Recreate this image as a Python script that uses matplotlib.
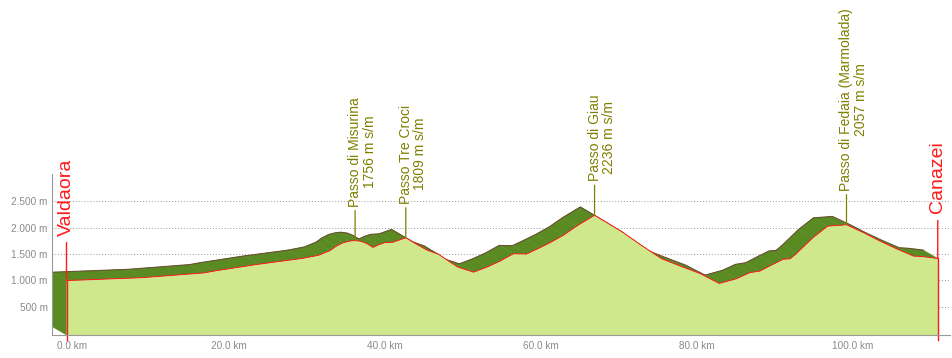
import numpy as np
import matplotlib
matplotlib.use("Agg")
import matplotlib.pyplot as plt
import matplotlib.transforms as mtransforms
from matplotlib.collections import PolyCollection

plt.rcParams['font.family'] = ['Liberation Sans', 'DejaVu Sans']

# ==========================
# Data (km, elevation in m)
# ==========================
km = [0.0, 9.7, 17.6, 19.1, 24.6, 30.2, 32.3, 33.8, 34.6, 35.5, 36.3, 37.0,
      37.8, 38.5, 39.3, 40.0, 40.8, 41.9, 43.5, 44.9, 46.2, 47.7, 49.2, 50.2,
      52.2, 53.9, 55.6, 57.3, 59.0, 60.7, 62.0, 63.7, 65.4, 67.7, 69.3, 71.4,
      73.5, 76.3, 78.7, 81.2, 83.7, 85.9, 87.6, 88.9, 90.6, 91.9, 92.8, 93.6,
      95.7, 97.6, 99.1, 100.0, 102.2, 104.3, 106.4, 108.6, 109.8, 111.7]
elev = [995, 1050, 1140, 1180, 1305, 1415, 1475, 1565, 1650, 1715, 1745, 1756,
        1740, 1700, 1625, 1675, 1715, 1725, 1809, 1685, 1575, 1495, 1345, 1250,
        1155, 1250, 1365, 1505, 1500, 1620, 1715, 1855, 2030, 2236, 2095, 1905,
        1685, 1410, 1270, 1130, 940, 1030, 1145, 1175, 1305, 1400, 1410, 1510,
        1810, 2030, 2045, 2057, 1905, 1745, 1600, 1460, 1450, 1415]

# cols / passes
pass_km = [37.0, 43.5, 67.7, 100.0]
pass_elev = [1756, 1809, 2236, 2057]
pass_names = ["Passo di Misurina", "Passo Tre Croci", "Passo di Giau",
              "Passo di Fedaia (Marmolada)"]

# start / finish
towns = ["Valdaora", "Canazei"]
town_km = [km[0], km[-1]]
town_elev = [elev[0], elev[-1]]

y_ticks = [500, 1000, 1500, 2000, 2500]
y_labels = ["500 m", "1.000 m", "1.500 m", "2.000 m", "2.500 m"]
x_ticks = [0, 20, 40, 60, 80, 100]
x_labels = ["0.0 km", "20.0 km", "40.0 km", "60.0 km", "80.0 km", "100.0 km"]

# ==========================
# Style
# ==========================
LIGHT = '#d0e88c'
DARK = '#5a8a22'
EDGE = '#6a5232'
RED = '#ff1a1a'
OLIVE = '#7f7f00'
GRAY = '#8a8a8a'
Y_MIN, Y_MAX = -40, 3021
X_MIN, X_MAX = -1.86, 113.27
DX, DY = -1.83, 158       # offset of the "3D" back edge

x = np.array(km)
y = np.array(elev)

fig = plt.figure(figsize=(9.52, 3.58), dpi=100)
ax = fig.add_axes([52 / 952, 23 / 358, 898 / 952, 161 / 358])
ax.set_xlim(X_MIN, X_MAX)
ax.set_ylim(Y_MIN, Y_MAX)

# grid
for t in y_ticks:
    ax.axhline(t, color='#9a9a9a', lw=0.7, ls=(0, (1, 2)), zorder=0)

# top surface (dark band) + left side face
quads = []
for i in range(len(x) - 1):
    quads.append([(x[i], y[i]), (x[i + 1], y[i + 1]),
                  (x[i + 1] + DX, y[i + 1] + DY), (x[i] + DX, y[i] + DY)])
quads.append([(x[0], Y_MIN), (x[0], y[0]), (x[0] + DX, y[0] + DY),
              (x[0] + DX, Y_MIN + DY)])
ax.add_collection(PolyCollection(quads, facecolor=DARK, edgecolor=DARK,
                                 lw=0.3, zorder=1))
ax.plot(x + DX, y + DY, color=EDGE, lw=0.8, zorder=2)

# front face
ax.fill_between(x, Y_MIN, y, color=LIGHT, lw=0, zorder=3)
ax.plot(x, y, color=RED, lw=0.7, zorder=4)

# passes
for k, e, name in zip(pass_km, pass_elev, pass_names):
    ax.annotate('', xy=(k, e), xytext=(0, 30 * 0.72), textcoords='offset points',
                arrowprops=dict(arrowstyle='-', color=OLIVE, lw=0.9,
                                shrinkA=0, shrinkB=0),
                annotation_clip=False, zorder=5)
    ax.annotate(f"{name}\n{e} m s/m", xy=(k, e), xytext=(-7 * 0.72, 34 * 0.72),
                textcoords='offset points', rotation=90, ha='left', va='bottom',
                multialignment='center', linespacing=1.05, fontsize=10,
                color=OLIVE, annotation_clip=False, zorder=5)

# start / finish markers
for k, e, name in zip(town_km, town_elev, towns):
    ax.plot([k, k], [Y_MIN - 100, e], color=RED, lw=1.0, clip_on=False, zorder=5)
    ax.annotate('', xy=(k, e), xytext=(0, 38 * 0.72), textcoords='offset points',
                arrowprops=dict(arrowstyle='-', color=RED, lw=1.0,
                                shrinkA=0, shrinkB=0),
                annotation_clip=False, zorder=5)
    ax.annotate(name, xy=(k, e), xytext=(0, 45 * 0.72), textcoords='offset points',
                rotation=90, ha='center', va='bottom', fontsize=14, color=RED,
                annotation_clip=False, zorder=5)

# axes
for s in ['top', 'right']:
    ax.spines[s].set_visible(False)
for s in ['left', 'bottom']:
    ax.spines[s].set_color('#999999')
    ax.spines[s].set_linewidth(0.8)
    ax.spines[s].set_zorder(6)

ax.set_yticks(y_ticks)
ax.set_yticklabels(y_labels)
ax.set_xticks(x_ticks)
ax.set_xticklabels(x_labels)
ax.tick_params(axis='both', length=0, labelsize=7.2, labelcolor=GRAY)
ax.tick_params(axis='y', pad=3)
ax.tick_params(axis='x', pad=4)
shift = mtransforms.ScaledTranslation(6 / 100, 0, fig.dpi_scale_trans)
for lbl in ax.get_xticklabels():
    lbl.set_transform(lbl.get_transform() + shift)

fig.savefig("out.png", dpi=100)
